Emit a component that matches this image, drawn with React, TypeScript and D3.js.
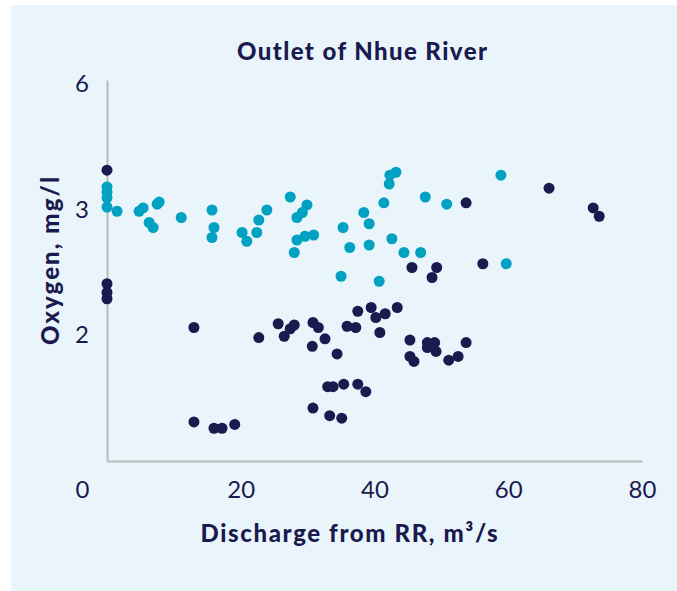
import React, { useEffect, useRef } from 'react';
import * as d3 from 'd3';

// Dissolved oxygen vs discharge from Red River (two series)
const darkX = [0, 0, 0, 0, 13.0, 13.0, 16.0, 17.2, 19.1, 22.7, 25.6, 26.5, 27.4, 28.0, 30.8, 31.6, 30.7, 32.6, 34.4, 37.5,
  35.9, 37.2, 39.5, 40.2, 41.6, 43.4, 40.8, 45.3, 45.3, 45.9, 47.9, 49.0, 47.9, 49.2, 51.1, 52.5, 53.7, 30.8, 33.3, 35.1,
  33.0, 33.8, 35.4, 37.5, 38.7, 53.7, 66.1, 72.7, 73.6, 45.6, 49.3, 48.6, 56.2];
const darkY = [3.95, 2.41, 2.34, 2.29, 2.06, 1.31, 1.26, 1.26, 1.29, 1.98, 2.09, 1.99, 2.05, 2.08, 2.10, 2.06, 1.91, 1.97, 1.85, 2.19,
  2.07, 2.06, 2.22, 2.14, 2.17, 2.22, 2.02, 1.96, 1.83, 1.79, 1.94, 1.94, 1.90, 1.87, 1.80, 1.83, 1.94, 1.42, 1.36, 1.34,
  1.59, 1.59, 1.61, 1.61, 1.55, 3.17, 3.52, 3.05, 2.95, 2.54, 2.54, 2.46, 2.57];

const tealX = [0, 0, 0, 0, 1.5, 4.8, 5.4, 6.3, 6.9, 7.5, 7.8, 11.1, 15.7, 16.0, 15.7, 20.2, 20.9, 22.4, 22.7, 23.9,
  27.4, 28.4, 29.2, 29.9, 28.4, 28.0, 29.6, 30.9, 35.3, 36.3, 35.0, 38.4, 39.2, 39.2, 40.7, 41.4, 42.2, 42.3, 43.2, 42.6,
  44.4, 46.9, 47.6, 50.8, 58.9, 59.7];
const tealY = [3.55, 3.43, 3.29, 3.07, 2.99, 2.99, 3.05, 2.90, 2.86, 3.14, 3.19, 2.94, 3.0, 2.86, 2.78, 2.82, 2.75, 2.82, 2.92, 3.0,
  3.31, 2.94, 2.98, 3.12, 2.76, 2.66, 2.79, 2.80, 2.86, 2.70, 2.47, 2.98, 2.89, 2.72, 2.43, 3.17, 3.62, 3.83, 3.90, 2.77,
  2.66, 2.66, 3.31, 3.14, 3.83, 2.57];

const xTicks = [0, 20, 40, 60, 80];
const yTicks = [2, 3, 6];

const App = () => {
  const ref = useRef<SVGSVGElement | null>(null);

  useEffect(() => {
    if (!ref.current) return;
    const svg = d3.select(ref.current);
    svg.selectAll('*').remove();

    const navy = '#1b1a4f';
    const teal = '#00a1c1';
    const font = 'Lato, "Open Sans", sans-serif';

    svg.append('rect')
      .attr('x', 11).attr('y', 5)
      .attr('width', 666).attr('height', 586)
      .attr('fill', '#eaf5fb');

    const x = d3.scaleLinear().domain([0, 80]).range([107, 642]);
    // broken-looking axis in the original: 6, 3, 2 evenly spaced
    const y = d3.scaleLinear().domain([1, 2, 3, 6.1]).range([461, 335, 210, 80]);

    // Axes
    const gx = svg.append('g')
      .attr('transform', `translate(0,${y(1)})`)
      .call(d3.axisBottom(x).tickValues(xTicks).tickSize(0).tickPadding(20).tickFormat(d3.format('d')));
    gx.select('.domain').attr('stroke', '#bababa').attr('stroke-width', 2);
    gx.selectAll('text')
      .attr('fill', navy)
      .style('font-family', font)
      .style('font-size', '24px')
      .attr('dx', (d: any) => (d === 0 ? -25 : 0));

    const gy = svg.append('g')
      .attr('transform', `translate(${x(0)},0)`)
      .call(d3.axisLeft(y).tickValues(yTicks).tickSize(0).tickPadding(18).tickFormat(d3.format('d')));
    gy.select('.domain').attr('stroke', '#bababa').attr('stroke-width', 2);
    gy.selectAll('text')
      .attr('fill', navy)
      .style('font-family', font)
      .style('font-size', '24px');

    // Points
    svg.append('g')
      .selectAll('circle')
      .data(tealX.map((v, i) => [v, tealY[i]]))
      .enter()
      .append('circle')
      .attr('cx', d => x(d[0]))
      .attr('cy', d => y(d[1]))
      .attr('r', 5.5)
      .attr('fill', teal);

    svg.append('g')
      .selectAll('circle')
      .data(darkX.map((v, i) => [v, darkY[i]]))
      .enter()
      .append('circle')
      .attr('cx', d => x(d[0]))
      .attr('cy', d => y(d[1]))
      .attr('r', 5.5)
      .attr('fill', navy);

    // Titles
    svg.append('text')
      .attr('x', 362).attr('y', 60)
      .attr('text-anchor', 'middle')
      .attr('fill', navy)
      .style('font-family', font)
      .style('font-size', '24px')
      .style('font-weight', '900')
      .attr('textLength', 250)
      .text('Outlet of Nhue River');

    svg.append('text')
      .attr('x', 349).attr('y', 542)
      .attr('text-anchor', 'middle')
      .attr('fill', navy)
      .style('font-family', font)
      .style('font-size', '24px')
      .style('font-weight', '900')
      .attr('textLength', 297)
      .text('Discharge from RR, m³/s');

    svg.append('text')
      .attr('transform', 'translate(59,261) rotate(-90)')
      .attr('text-anchor', 'middle')
      .attr('fill', navy)
      .style('font-family', font)
      .style('font-size', '24px')
      .style('font-weight', '900')
      .attr('textLength', 168)
      .text('Oxygen, mg/l');
  }, []);

  return (
    <svg
      ref={ref}
      width={677}
      height={591}
      style={{ position: 'absolute', left: 0, top: 0, background: '#ffffff' }}
    />
  );
};

export default App;
